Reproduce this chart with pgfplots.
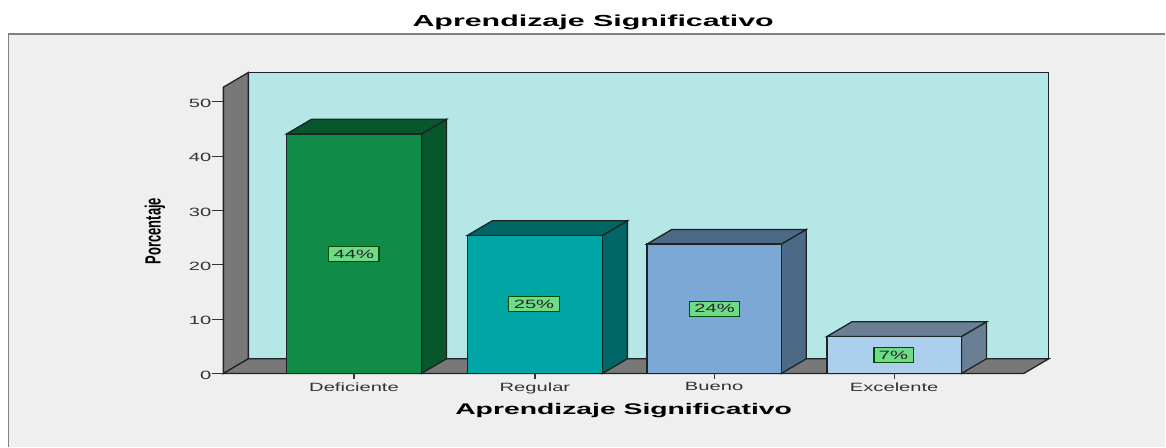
\documentclass[border=0pt]{standalone}
\usepackage{fontspec}
\usepackage{pgfplots}
\pgfplotsset{compat=1.18}
\setmainfont{Liberation Sans}
\newfontfamily\widefont[FakeStretch=1.68]{Liberation Sans}
\newfontfamily\titlefont[FakeStretch=1.9]{Liberation Sans}
\newfontfamily\xlabfont[FakeStretch=1.84]{Liberation Sans}
\newfontfamily\narrowfont[FakeStretch=0.59]{Liberation Sans}
\definecolor{panel}{HTML}{EFEFEF}
\definecolor{wallc}{HTML}{B5E7E7}
\definecolor{grayc}{HTML}{787878}
\definecolor{edgec}{HTML}{1E2424}
\definecolor{tickc}{HTML}{333333}
\definecolor{labelc}{HTML}{6EDB87}
\definecolor{fa}{HTML}{108C48}\definecolor{sa}{HTML}{08562B}
\definecolor{fb}{HTML}{00A6A6}\definecolor{sb}{HTML}{006666}
\definecolor{fc}{HTML}{7BA8D5}\definecolor{sc}{HTML}{4C6985}
\definecolor{fd}{HTML}{ADCFEE}\definecolor{sd}{HTML}{6B7F94}
\tikzset{lab/.style={draw=black!70!green,line width=1.1pt,fill=labelc,inner xsep=5pt,inner ysep=3.5pt,font=\widefont\fontsize{12}{13}\selectfont,text=black!85},
 edge/.style={draw=edgec,line width=1.3pt}}
\begin{document}
\begin{tikzpicture}[x=1pt,y=1pt]
\fill[white] (-223.5,-73.3) rectangle (942.5,373.7);
\fill[panel] (-215.5,-73.3) rectangle (942.5,339.7);
\draw[gray,line width=1.3pt] (-215,-73.3) -- (-215,339.7) -- (942.5,339.7);
\begin{axis}[
  at={(0pt,0pt)},anchor=origin,
  scale only axis,width=800.8pt,height=286.5pt,
  xmin=223.5,xmax=1024.3,ymin=0,ymax=52.67,
  clip=false,unbounded coords=jump,
  axis x line*=bottom,axis y line*=left,
  axis line style={draw=edgec,line width=1.3pt,-},
  tick align=outside,
  major tick length=0pt,
  xtick={354.2,535.2,714.5,894.7},
  xticklabels={Deficiente,Regular,Bueno,Excelente},
  ytick={0,10,20,30,40,50},
  /pgf/number format/assume math mode=true,
  tick label style={font=\widefont\fontsize{12}{13}\selectfont,text=black!80},
  yticklabel style={xshift=-8.5pt,yshift=-1.5pt},
  xticklabel style={yshift=-5.5pt},
  every axis title shift=0pt,
  title={\titlefont\bfseries\fontsize{16}{18}\selectfont Aprendizaje Significativo},
  title style={at={(0.462,1.2275)},anchor=center},
  xlabel={\xlabfont\bfseries\fontsize{15.4}{17}\selectfont Aprendizaje Significativo},
  xlabel style={at={(0.5001,-0.1290)},anchor=center},
  ylabel={\narrowfont\bfseries\fontsize{22}{24}\selectfont Porcentaje},
  ylabel style={at={(-0.0855,0.4975)},anchor=center},
]
\addplot[fill=wallc,edge] coordinates {(248.5,2.7)(1049.3,2.7)(1049.3,55.37)(248.5,55.37)} --cycle;
\addplot[fill=grayc,edge] coordinates {(223.5,0)(248.5,2.7)(248.5,55.37)(223.5,52.67)} --cycle;
\addplot[fill=grayc,edge] coordinates {(223.5,0)(1024.3,0)(1049.3,2.7)(248.5,2.7)} --cycle;
\addplot[draw=tickc,line width=1pt] coordinates {(212,0)(223.5,0)(nan,nan)(212,10)(223.5,10)(nan,nan)(212,20)(223.5,20)(nan,nan)(212,30)(223.5,30)(nan,nan)(212,40)(223.5,40)(nan,nan)(212,50)(223.5,50)};
\addplot[fill=sa,edge] coordinates {(421.7,0)(446.7,2.7)(446.7,46.76)(421.7,44.06)} --cycle;
\addplot[fill=sa,edge] coordinates {(286.7,44.06)(311.7,46.76)(446.7,46.76)(421.7,44.06)} --cycle;
\addplot[ybar,bar width=135,bar shift=0pt,fill=fa,edge] coordinates {(354.2,44.06)};
\addplot[fill=sb,edge] coordinates {(602.7,0)(627.7,2.7)(627.7,28.1)(602.7,25.4)} --cycle;
\addplot[fill=sb,edge] coordinates {(467.7,25.4)(492.7,28.1)(627.7,28.1)(602.7,25.4)} --cycle;
\addplot[ybar,bar width=135,bar shift=0pt,fill=fb,edge] coordinates {(535.2,25.4)};
\addplot[fill=sc,edge] coordinates {(781.7,0)(806.7,2.7)(806.7,26.5)(781.7,23.8)} --cycle;
\addplot[fill=sc,edge] coordinates {(647.3,23.8)(672.3,26.5)(806.7,26.5)(781.7,23.8)} --cycle;
\addplot[ybar,bar width=134.4,bar shift=0pt,fill=fc,edge] coordinates {(714.5,23.8)};
\addplot[fill=sd,edge] coordinates {(962,0)(987,2.7)(987,9.5)(962,6.8)} --cycle;
\addplot[fill=sd,edge] coordinates {(827.3,6.8)(852.3,9.5)(987,9.5)(962,6.8)} --cycle;
\addplot[ybar,bar width=134.7,bar shift=0pt,fill=fd,edge] coordinates {(894.7,6.8)};
\addplot[draw=tickc,line width=1.2pt] coordinates {(354.2,0)(354.2,-1.1)};
\addplot[draw=tickc,line width=1.2pt] coordinates {(535.2,0)(535.2,-1.1)};
\addplot[draw=tickc,line width=1.2pt] coordinates {(714.5,0)(714.5,-1.1)};
\addplot[draw=tickc,line width=1.2pt] coordinates {(894.7,0)(894.7,-1.1)};
\node[lab] at (axis cs:354,22) {44\%};
\node[lab] at (axis cs:534.3,12.8) {25\%};
\node[lab] at (axis cs:715,11.9) {24\%};
\node[lab] at (axis cs:894,3.4) {7\%};
\end{axis}
\end{tikzpicture}
\end{document}
